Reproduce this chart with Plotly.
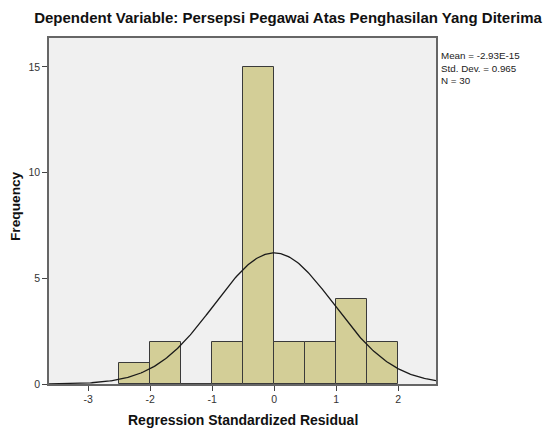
import numpy as np
import plotly.graph_objects as go

# Data
bin_left = [-2.5, -2.0, -1.5, -1.0, -0.5, 0.0, 0.5, 1.0, 1.5]
counts = [1, 2, 0, 2, 15, 2, 2, 4, 2]
bin_width = 0.5
mean_val = -2.93e-15
std_val = 0.965
n_val = 30
x_ticks = [-3, -2, -1, 0, 1, 2]
y_ticks = [0, 5, 10, 15]

x_range = [-3.63, 2.61]
y_range = [0, 16.37]

centers = [b + bin_width / 2 for b in bin_left]

xs = np.linspace(x_range[0], x_range[1], 300)
ys = n_val * bin_width / (std_val * np.sqrt(2 * np.pi)) * np.exp(-0.5 * ((xs - mean_val) / std_val) ** 2)

font_family = "Arial, Liberation Sans, sans-serif"

fig = go.Figure()
fig.add_trace(go.Bar(
    x=centers, y=counts, width=bin_width,
    marker=dict(color="#D3CE97", line=dict(color="#3a3a3a", width=1)),
    showlegend=False, hoverinfo="skip",
))
fig.add_trace(go.Scatter(
    x=xs, y=ys, mode="lines",
    line=dict(color="#1a1a1a", width=1.3),
    showlegend=False, hoverinfo="skip",
))

fig.update_layout(
    width=544, height=428,
    margin=dict(l=49, r=108, t=38, b=44),
    paper_bgcolor="white",
    plot_bgcolor="#F0F0F0",
    font=dict(family=font_family, color="#222"),
    bargap=0,
    title=dict(
        text="<b>Dependent Variable: Persepsi Pegawai Atas Penghasilan Yang Diterima</b>",
        xref="container", yref="container",
        x=288 / 544, y=1 - 18 / 428, xanchor="center", yanchor="middle",
        font=dict(size=15, family=font_family, color="#111"),
    ),
    xaxis=dict(
        range=x_range, tickvals=x_ticks, ticktext=[str(t) for t in x_ticks],
        showgrid=False, zeroline=False,
        showline=True, linecolor="#666", linewidth=1.5, mirror=True,
        ticks="outside", ticklen=5, tickcolor="#444",
        tickfont=dict(size=10.5, color="#333"),
    ),
    yaxis=dict(
        range=y_range, tickvals=y_ticks,
        showgrid=False, zeroline=False,
        showline=True, linecolor="#666", linewidth=1.5, mirror=True,
        ticks="outside", ticklen=5, tickcolor="#444",
        tickfont=dict(size=10.5, color="#333"),
    ),
    annotations=[
        dict(text="<b>Regression Standardized Residual</b>", xref="paper", yref="paper",
             x=(243 - 49) / 387, y=-36 / 346, xanchor="center", yanchor="middle", showarrow=False,
             font=dict(size=14, color="#111")),
        dict(text="<b>Frequency</b>", xref="paper", yref="paper",
             x=-34 / 387, y=(384 - 206) / 346, xanchor="center", yanchor="middle", textangle=-90,
             showarrow=False, font=dict(size=13.7, color="#111")),
        dict(text=f"Mean = -2.93E-15<br>Std. Dev. = {std_val}<br>N = {n_val}",
             xref="paper", yref="paper", x=1.008, y=(384 - 48) / 346,
             xanchor="left", yanchor="top", align="left", showarrow=False,
             font=dict(size=9.8, color="#222")),
    ],
)

fig.write_html("out.html", config={"displayModeBar": False},
               post_script="document.body.style.margin='0';document.body.style.overflow='hidden';")
